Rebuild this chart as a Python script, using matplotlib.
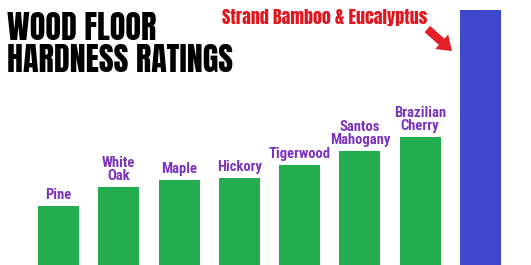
import matplotlib
matplotlib.use('Agg')
import matplotlib.pyplot as plt

woods = ['Pine', 'White\nOak', 'Maple', 'Hickory', 'Tigerwood',
         'Santos\nMahogany', 'Brazilian\nCherry', 'Strand Bamboo & Eucalyptus']
hardness = [590, 780, 850, 870, 1000, 1140, 1280, 2550]
colors = ['#24ad4f'] * 7 + ['#3f48cc']

heavy = ['Anton', 'DejaVu Sans']
narrow = ['Roboto Condensed', 'DejaVu Sans']

fig = plt.figure(figsize=(5.31, 2.65), dpi=100)
ax = fig.add_axes([0, 0, 1, 1])
x = list(range(len(woods)))
ax.bar(x, hardness, width=0.68, color=colors)
ax.set_xlim(-0.97, 7.84)
ax.set_ylim(0, 2650)
ax.axis('off')

# purple labels over the green bars
for i in range(7):
    ax.text(x[i], hardness[i] + 40, woods[i], ha='center', va='bottom',
            color='#7a33bf', fontsize=10.5, fontweight='bold', family=narrow,
            linespacing=0.92)

# red label with arrow for the last bar
ax.text(4.41, 2480, woods[7], ha='center', va='center', color='#e0161f',
        fontsize=13, family=heavy)
ax.annotate('', xy=(6.53, 2140), xytext=(6.12, 2360),
            arrowprops=dict(arrowstyle='simple,head_width=1.4,head_length=1.0,tail_width=0.6',
                            color='#e3202a', lw=0, shrinkA=0, shrinkB=0))

fig.text(0.013, 0.955, 'WOOD FLOOR\nHARDNESS RATINGS', ha='left', va='top',
         fontsize=23, family=heavy, linespacing=1.0)

fig.savefig('out.png', dpi=100)
